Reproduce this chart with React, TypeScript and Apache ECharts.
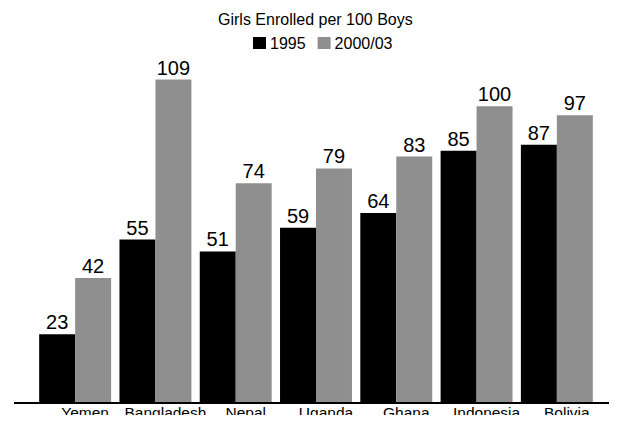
import React, { useEffect, useRef } from "react";
import * as echarts from "echarts";

const countries = ["Yemen", "Bangladesh", "Nepal", "Uganda", "Ghana", "Indonesia", "Bolivia"];
const enrolled1995 = [23, 55, 51, 59, 64, 85, 87];
const enrolled2000 = [42, 109, 74, 79, 83, 100, 97];
const seriesNames = ["1995", "2000/03"];
const titleText = "Girls Enrolled per 100 Boys";

export default function App() {
  const ref = useRef<HTMLDivElement>(null);

  useEffect(() => {
    if (!ref.current) return;
    const chart = echarts.init(ref.current, null, { renderer: "svg" });
    const valueLabel = {
      show: true,
      position: "top" as const,
      distance: 2,
      color: "#000",
      fontSize: 20,
      fontFamily: "'Liberation Sans', Arial, sans-serif",
    };
    chart.setOption({
      animation: false,
      backgroundColor: "#fff",
      title: {
        text: titleText,
        left: 218,
        top: 11,
        padding: 0,
        textStyle: {
          fontSize: 16,
          fontWeight: "normal",
          color: "#000",
          fontFamily: "'Liberation Sans', Arial, sans-serif",
        },
      },
      legend: {
        data: seriesNames,
        left: 253,
        top: 35,
        padding: 0,
        itemGap: 12,
        itemWidth: 13,
        itemHeight: 12,
        icon: "rect",
        textStyle: {
          fontSize: 16,
          color: "#000",
          padding: [0, 0, 0, -1],
          fontFamily: "'Liberation Sans', Arial, sans-serif",
        },
      },
      grid: { left: 35, right: 20, top: 47, bottom: 20.5, containLabel: false },
      xAxis: {
        type: "category",
        data: countries,
        axisLine: { show: false },
        axisTick: { show: false },
        axisLabel: {
          interval: 0,
          hideOverlap: false,
          color: "#000",
          fontSize: 15.5,
          lineHeight: 16,
          margin: 2,
          padding: [0, 0, 0, 20],
          verticalAlign: "top",
          fontFamily: "'Liberation Sans Narrow', 'Arial Narrow', sans-serif",
        },
      },
      yAxis: {
        type: "value",
        min: 0,
        max: 120,
        show: false,
      },
      series: [
        {
          name: seriesNames[0],
          type: "bar",
          data: enrolled1995,
          barGap: "0%",
          barCategoryGap: "10.4%",
          itemStyle: { color: "#000" },
          label: valueLabel,
        },
        {
          name: seriesNames[1],
          type: "bar",
          data: enrolled2000,
          itemStyle: { color: "#8f8f8f" },
          label: valueLabel,
        },
      ],
      graphic: [
        {
          type: "line",
          shape: { x1: 14, y1: 403, x2: 617, y2: 403 },
          style: { stroke: "#000", lineWidth: 2 },
          z: 10,
        },
      ],
    });
    return () => chart.dispose();
  }, []);

  return <div ref={ref} style={{ width: 617, height: 423, margin: -8 }} />;
}
